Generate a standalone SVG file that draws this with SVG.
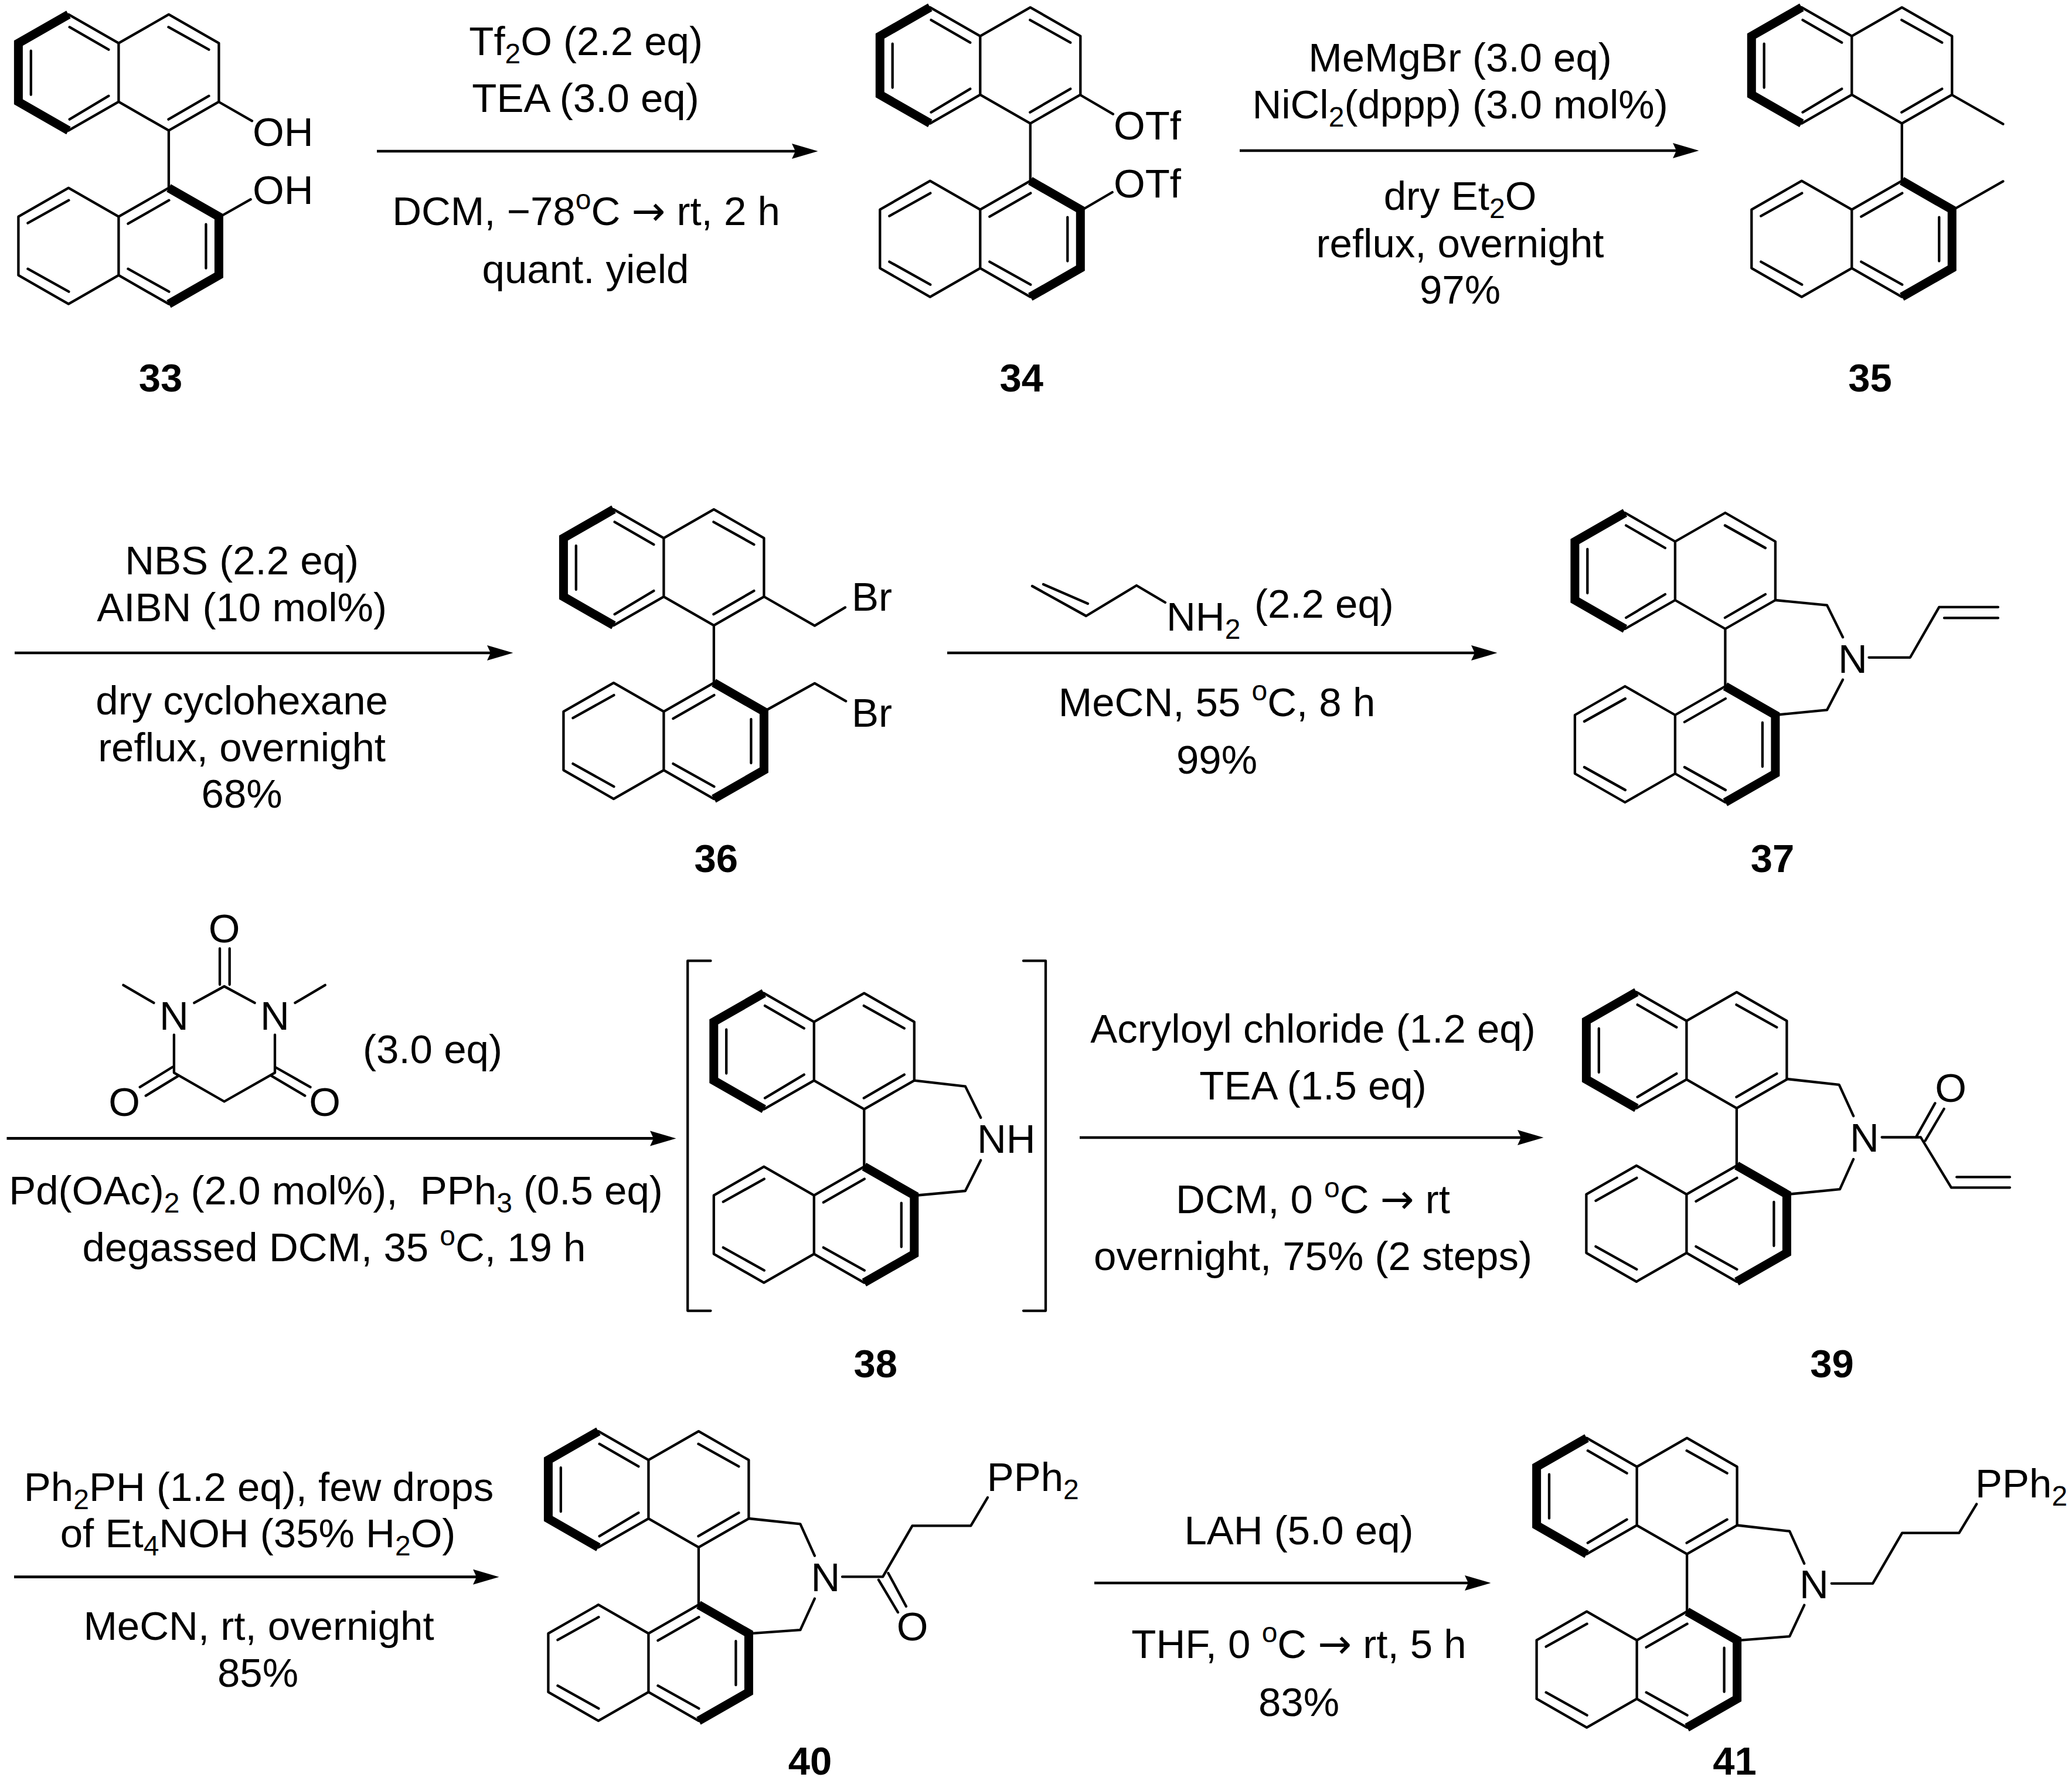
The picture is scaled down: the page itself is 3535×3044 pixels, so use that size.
<svg xmlns="http://www.w3.org/2000/svg" width="3535" height="3044" viewBox="0 0 3535 3044">
<style>
text{font-family:"Liberation Sans",Arial,sans-serif;font-size:69px;fill:#000}
.m{text-anchor:middle}
.b{font-weight:bold;font-size:67px}
.s{font-size:48px}
.r{font-family:"DejaVu Sans",sans-serif;font-size:69px}
.l{fill:none;stroke:#000;stroke-width:4.3;stroke-linecap:round;stroke-linejoin:round}
.h{fill:none;stroke:#000;stroke-width:15;stroke-linejoin:miter;stroke-linecap:butt}
.a{fill:none;stroke:#000;stroke-width:4.7;marker-end:url(#arr)}
</style>
<defs>
<marker id="arr" markerUnits="userSpaceOnUse" markerWidth="46" markerHeight="28" refX="6" refY="13" orient="auto"><path d="M44.5,13 L0,0 L6,13 L0,26Z" fill="#000"/></marker>
<g id="binaph">
<path class="l" d="M-85.5,-49 L0,0 L85.5,-49 L171,0 V100 L85.5,149 L0,100 L-85.5,149 M0,0 V100 M85.5,149 V247 L0,296 L-85.5,247 L-171,296 V396 L-85.5,445 L0,396 L85.5,445 M0,296 V396"/>
<path class="l" d="M-83.8,-27.5 L-17,11 M-149.6,13 V88 M-83.8,130 L-17,90 M85,-27.5 L154,11 M154,90 L85,130 M-85,268 L-155,307 M-155,385 L-85,424 M16,308 L86,268 M149,309 V384 M16,385 L86,424"/>
<path class="h" d="M-85.5,-49 L-171,0 V100 L-85.5,149 M85.5,247 L171,296 V396 L85.5,445"/>
</g>
</defs>
<rect width="3535" height="3044" fill="#fff"/>

<g id="connectors">
<path class="a" d="M643,258 H1357"/>
<path class="a" d="M2115,257 H2860"/>
<path class="a" d="M25,1114 H837"/>
<path class="a" d="M1616,1114 H2516"/>
<path class="a" d="M11.5,1942.4 H1115"/>
<path class="a" d="M1842,1941 H2595"/>
<path class="a" d="M24,2690.7 H813"/>
<path class="a" d="M1867,2701 H2505"/>
</g>

<g id="mol33">
<use href="#binaph" x="202.4" y="73.7"/>
<path class="l" d="M373.5,174 L430,206.3 M375,370 L427.7,340.2"/>
<text x="431" y="249">OH</text><text x="431" y="348">OH</text>
<text class="m b" x="274" y="668">33</text>
</g>
<g id="mol34">
<use href="#binaph" x="1672.3" y="61.6"/>
<path class="l" d="M1843,162 L1898.9,194.6 M1843,360 L1897.7,328"/>
<text x="1900" y="237.5">OTf</text><text x="1900" y="337">OTf</text>
<text class="m b" x="1742.7" y="668">34</text>
</g>
<g id="mol35">
<use href="#binaph" x="3159.3" y="61.6"/>
<path class="l" d="M3330.3,162 L3417.4,211.6 M3330.3,359 L3417.4,309.4"/>
<text class="m b" x="3190.5" y="668">35</text>
</g>
<g id="mol36">
<use href="#binaph" x="1132.4" y="918.1"/>
<path class="l" d="M1303.4,1018 L1389.9,1067.7 L1442,1036.4 M1303.4,1214 L1389.9,1165.9 L1443.2,1196.3"/>
<text x="1453" y="1042.2">Br</text><text x="1453" y="1239.6">Br</text>
<text class="m b" x="1221.8" y="1488">36</text>
</g>
<g id="mol37">
<use href="#binaph" x="2857.9" y="924"/>
<path class="l" d="M3029,1024 L3117,1032.6 L3144,1087.3 M3029,1220 L3117,1211.4 L3144,1159.7 M3188.5,1121.8 H3258.9 L3308.3,1035.9 H3408.9 M3317,1054.4 H3408.9"/>
<text class="m" x="3160.9" y="1147.5">N</text>
<text class="m b" x="3024" y="1488.4">37</text>
</g>
<g id="mol38">
<use href="#binaph" x="1388.8" y="1743.6"/>
<path class="l" d="M1559.8,1843.6 L1646.9,1853.6 L1673.2,1907 M1559.8,2040 L1646.9,2032 L1673.2,1979.7"/>
<text x="1667" y="1966.6">NH</text>
<path class="l" stroke-linecap="butt" d="M1212.5,1639.4 H1173.2 V2236.6 H1212.5 M1746,1639.4 H1784 V2236.6 H1746"/>
<text class="m b" x="1493.8" y="2349.5">38</text>
</g>
<g id="mol39">
<use href="#binaph" x="2877.4" y="1741.8"/>
<path class="l" d="M3048.4,1841 L3137.7,1850.9 L3162.1,1904.2 M3048.4,2038 L3139,2029.2 L3162.1,1977.9 M3210.6,1940.5 H3276.9 L3329,2026.3 H3429 M3338.2,2008.4 H3429 M3269.3,1939.6 L3301.4,1882.4 M3284.6,1946.3 L3316.7,1892"/>
<text class="m" x="3180.8" y="1964.8">N</text>
<text class="m" x="3328" y="1880">O</text>
<text class="m b" x="3125.4" y="2350">39</text>
</g>
<g id="mol40">
<use href="#binaph" x="1106.4" y="2491.2"/>
<path class="l" d="M1277.4,2591 L1365.4,2600.4 L1389.9,2654.6 M1277.4,2787.3 L1365.4,2781.1 L1389.9,2727.7 M1437,2690.4 H1506.2 L1556.5,2603.3 H1656.3 L1685,2555.2 M1498.9,2695.7 L1532,2751.1 M1515.4,2684.2 L1546,2740.9"/>
<text class="m" x="1408.3" y="2715">N</text>
<text class="m" x="1556.5" y="2799.4">O</text>
<text x="1683.7" y="2543.7">PPh<tspan class="s" dy="14">2</tspan></text>
<text class="m b" x="1382" y="3027.5">40</text>
</g>
<g id="mol41">
<use href="#binaph" x="2792.6" y="2502.7"/>
<path class="l" d="M2963.6,2602.5 L3053.2,2612.7 L3078.2,2667.8 M2963.6,2799.2 L3053.2,2792.2 L3078.2,2738.8 M3124.7,2701.8 H3195.1 L3245.2,2615.6 H3342.4 L3372.2,2566.3"/>
<text class="m" x="3095" y="2727.3">N</text>
<text x="3370" y="2555.2">PPh<tspan class="s" dy="14">2</tspan></text>
<text class="m b" x="2959.6" y="3027.5">41</text>
</g>

<g id="cond1">
<text class="m" x="999.6" y="94">Tf<tspan class="s" dy="14">2</tspan><tspan dy="-14">O (2.2 eq)</tspan></text>
<text class="m" x="999" y="190.7">TEA (3.0 eq)</text>
<text class="m" x="1000" y="384">DCM, −78<tspan class="s" dy="-27">o</tspan><tspan dy="27">C </tspan><tspan class="r">→</tspan> rt, 2 h</text>
<text class="m" x="999" y="483.3">quant. yield</text>
</g>
<g id="cond2">
<text class="m" x="2491" y="122">MeMgBr (3.0 eq)</text>
<text class="m" x="2491" y="202">NiCl<tspan class="s" dy="14">2</tspan><tspan dy="-14">(dppp) (3.0 mol%)</tspan></text>
<text class="m" x="2491" y="358">dry Et<tspan class="s" dy="14">2</tspan><tspan dy="-14">O</tspan></text>
<text class="m" x="2491" y="439">reflux, overnight</text>
<text class="m" x="2491" y="518">97%</text>
</g>
<g id="cond3">
<text class="m" x="412.6" y="980">NBS (2.2 eq)</text>
<text class="m" x="412.6" y="1060">AIBN (10 mol%)</text>
<text class="m" x="412.6" y="1219">dry cyclohexane</text>
<text class="m" x="412.6" y="1299">reflux, overnight</text>
<text class="m" x="412.6" y="1378">68%</text>
</g>
<g id="cond4">
<path class="l" d="M1761,1000 L1853,1051 L1939,999 L1988,1028 M1780,997 L1856,1030"/>
<text x="1990" y="1076">NH<tspan class="s" dy="14">2</tspan></text>
<text x="2140" y="1054">(2.2 eq)</text>
<text class="m" x="2076" y="1222">MeCN, 55 <tspan class="s" dy="-27">o</tspan><tspan dy="27">C, 8 h</tspan></text>
<text class="m" x="2076" y="1320">99%</text>
</g>
<g id="cond5">
<path class="l" d="M375,1618.3 V1680 M391.7,1618.3 V1680 M210.4,1680.8 L262.4,1711.2 M554.7,1680.8 L503.4,1711.2 M331.3,1711.2 L382.6,1683 L434.6,1711.2 M296.9,1765.6 V1830.4 L382.6,1879.5 L469,1830.4 V1765.6 M294.6,1820.5 L238.7,1854.9 M304.5,1835.7 L248.7,1869.6 M469,1820.5 L529.5,1854.9 M462.9,1835.7 L520.3,1869.6"/>
<text class="m" x="382.6" y="1607.5">O</text>
<text class="m" x="296.9" y="1756.7">N</text>
<text class="m" x="469" y="1756.7">N</text>
<text class="m" x="212" y="1904.4">O</text>
<text class="m" x="554" y="1904.4">O</text>
<text class="m" x="738" y="1813.8">(3.0 eq)</text>
<text class="m" x="573" y="2054.8" xml:space="preserve">Pd(OAc)<tspan class="s" dy="14">2</tspan><tspan dy="-14"> (2.0 mol%),  PPh</tspan><tspan class="s" dy="14">3</tspan><tspan dy="-14"> (0.5 eq)</tspan></text>
<text class="m" x="570" y="2151.7">degassed DCM, 35 <tspan class="s" dy="-27">o</tspan><tspan dy="27">C, 19 h</tspan></text>
</g>
<g id="cond6">
<text class="m" x="2240" y="1779">Acryloyl chloride (1.2 eq)</text>
<text class="m" x="2240" y="1876">TEA (1.5 eq)</text>
<text class="m" x="2240" y="2070">DCM, 0 <tspan class="s" dy="-27">o</tspan><tspan dy="27">C </tspan><tspan class="r">→</tspan> rt</text>
<text class="m" x="2240" y="2167">overnight, 75% (2 steps)</text>
</g>
<g id="cond7">
<text class="m" x="441.5" y="2560.7">Ph<tspan class="s" dy="14">2</tspan><tspan dy="-14">PH (1.2 eq), few drops</tspan></text>
<text class="m" x="440" y="2640">of Et<tspan class="s" dy="14">4</tspan><tspan dy="-14">NOH (35% H</tspan><tspan class="s" dy="14">2</tspan><tspan dy="-14">O)</tspan></text>
<text class="m" x="441.5" y="2798.3">MeCN, rt, overnight</text>
<text class="m" x="440" y="2878">85%</text>
</g>
<g id="cond8">
<text class="m" x="2216" y="2635">LAH (5.0 eq)</text>
<text class="m" x="2216" y="2829">THF, 0 <tspan class="s" dy="-27">o</tspan><tspan dy="27">C </tspan><tspan class="r">→</tspan> rt, 5 h</text>
<text class="m" x="2216" y="2928">83%</text>
</g>
</svg>
